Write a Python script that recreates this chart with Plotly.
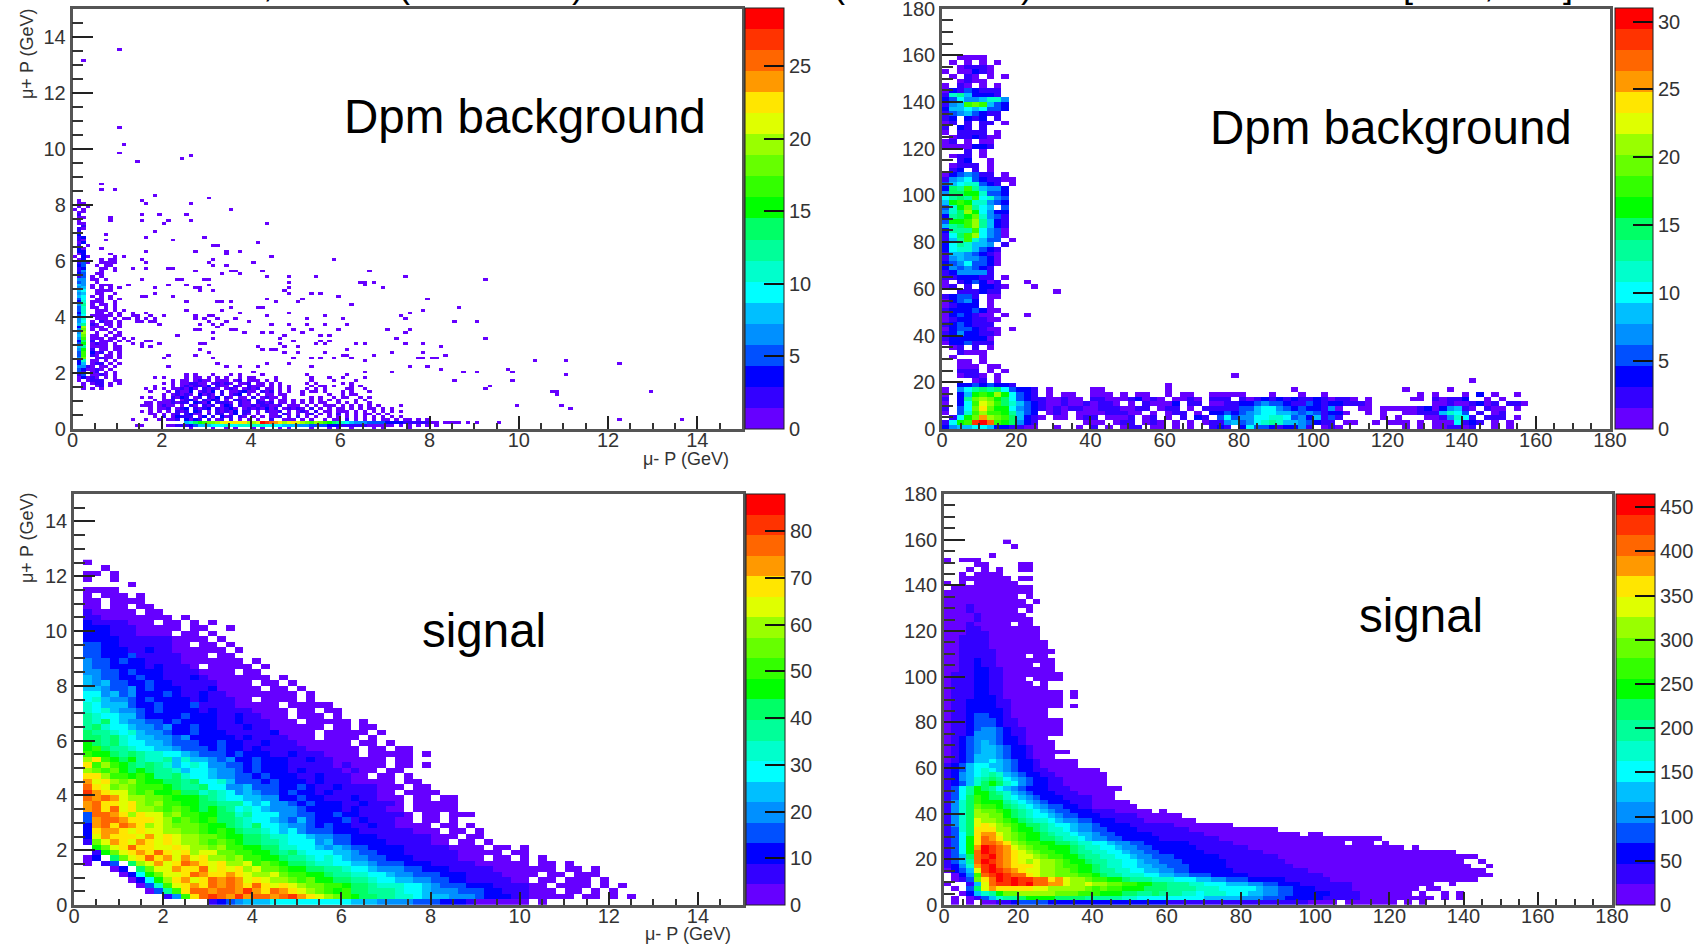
import plotly.graph_objects as go

W, H = 1704, 947
FONT = "Liberation Sans"

# ROOT-style 20-level palette, bottom to top
palette = ["#6600ff", "#3300ff", "#0000ff", "#0050ff", "#0090ff", "#00bfff", "#00ffff", "#00ffcc", "#00ff99", "#00ff66",
           "#00ff00", "#33ff00", "#66ff00", "#99ff00", "#dfff00", "#ffe600", "#ff9900", "#ff6600", "#ff3300", "#ff0000"]
CODES = "123456789abcdefghijk"

tl_zmax, tr_zmax, bl_zmax, br_zmax = 29, 31, 88, 465

# ---- Dpm background, muon momenta: left band, rows y=8.2 down to y=2.0, bins 0.1 GeV, start at x=0
tl_left_rows = [
 ".1", ".11", ".1.1", "1.1", ".11", ".2", ".11.....1", ".1......1", ".11", "..2", ".21", ".2", ".3.....1", ".23", ".21....1", ".13",
 ".2.1", ".31...1", ".33", ".13.....1", "1.31.....1.1", ".13...1.11", ".241..1111", ".34..1.11", ".23...11.1", ".25...1..1", ".34..11", ".24.1.1", ".55.11.1", ".45..1",
 ".65.1.111", ".56.1.1.1.1", ".67..1111", ".56..11..1", ".67.1.1.1", ".47..11.1.1", ".38.111..1", ".59.1.11.1", ".48.11.1.1", ".48..111.1.1", ".38..11.1.1", ".47.11111.1", ".58..111.1.1", ".57.1.211.1", ".69.21.11.1",
 ".3e.111.1.1", ".5d.1.11.1", ".5e..1..1.1", ".6d.11.1.11", ".5c.111.11.1", ".3a.2.111.1.1", ".4b.1211.1", ".69.1111.11", ".5b.2.11.11", ".4c.312.1.1", ".4c.21.11.1", ".5d..1211.1", ".38.11.1.1", ".36.122.1.1", ".5521.11.1", ".431121.1", ".42.12.1.1",
]
# Rows y=1.9 down to y=1.4, start at x=0
tl_mid_rows = [".24.1121.1", ".13121.1.1", ".1.1222..11", "..1.122.1.1", "..1..12.1", "..1.1.1"]
# Low-momentum region, rows y=1.9 down to y=0, bins 0.1 GeV, start at x=1.5
tl_low_rows = [
 "..........1.1...1...1.1....1.........1........1",
 "...1.1....1.11.1.1.1..1.11....1.......1...1..1....1",
 ".......1.11.1211.111.12.111.1.1.......1....1....1",
 ".....1.1.112211.12121.112.11.1.1.....1.1.....1.1",
 "...1...1.1212213.211.21.2111.1.1.1....1.11.1...1.1",
 ".1.1.1.112131.2121.121.1212.11.1.1...1.1.1....11..1",
 "..1...1.2113.1213.2.112311.212.1.1..1.11.1...1.1...1",
 ".....1.12121.3121.2.123.1.1.11.11...1.....1..1.11",
 "..1..1.2132.12.213.21.11.2.1211.1.....1.1..1.11..1.1",
 "...1.112.1231.2132.1.2212.21.1.11.1.1.1.1.1.1...1.1",
 ".11.1112122.3213.2221.211.2212.11.1.1.1.11..1.1.1..1",
 "111.1211.1.21.212.132.2112122112.111.1.1.111.1.1.1.1.1....1",
 "..1.112.123.2123.21231.12121312.12121.2.1.1.11.1.1.11.1.1",
 "1...1.1.212.32.1.21213.22.1.2112.1.121.2.11.111.1.1.1.1.1.1",
 "..11.1.12.2311.2.22.13.21.1..11.21.1.12.1.1.2.1.1.11.1.1",
 "...1.2.13222.13.2.312.21.1.1.112.1.2.1.1..1.1.1.1.1.1.1.1.1",
 "....1.112.3132.2.12.2.1.1.1..2..111.1.1..1.11.2.1.1.1.11.1.11.1.1",
 "..........68abcddefgfgfgeefkjihgefgfedcedcba98765554444333322222211.1111.1.1",
 "......112223466677787788888877776665554444333222222111111.1.1.1.1.1",
 "...........1....1..1.1...1.1...1.1....1...1.1..1....1.1.....1",
]
# Scattered single entries, momenta of mu- and mu+ (GeV)
tl_sparse_x = [1.0,0.2,1.0,1.15,1.0,1.45,2.45,2.65,0.65,0.65,0.95,1.85,1.55,1.65,2.65,3.0,3.55,1.55,1.55,1.95,2.5,2.6,2.1,2.05,4.35,1.85,1.65,2.25,2.95,3.1,3.2,4.1,1.6,2.75,3.4,3.4,3.7,3.1,3.0,4.45,5.85,1.55,1.6,3.15,3.4,4.05,1.65,1.3,2.15,2.25,2.75,3.35,3.55,3.65,3.75,4.2,4.3,4.8,5.4,6.65,7.45,2.95,3.05,2.3,2.4,1.5,1.25,2.15,2.55,2.75,2.85,3.0,4.8,6.4,6.5,6.55,6.75,6.9,9.25,1.85,1.85,2.85,3.1,4.7,4.8,4.85,5.3,5.5,5.15,5.9,7.95,1.55,1.6,2.25,2.55,3.25,3.35,3.55,4.1,4.2,4.3,4.5,5.05,6.25,8.65,3.35,1.3,1.4,1.7,1.85,2.0,2.55,2.75,3.5,3.7,4.2,4.35,4.85,5.2,5.65,6.0,7.5,7.8,7.35,1.5,1.6,1.7,1.8,1.95,2.7,2.8,2.9,3.0,3.1,3.2,3.3,3.05,3.15,3.25,3.45,3.6,3.9,4.4,4.85,5.2,5.65,6.15,8.5,9.0,7.4,2.35,2.7,2.85,3.1,3.5,3.65,3.8,4.25,4.45,4.6,4.75,4.95,5.15,5.3,5.55,5.75,5.9,7.0,7.55,7.4,1.3,1.6,1.75,1.95,2.85,2.95,3.1,4.65,4.55,4.7,4.9,5.0,5.4,5.55,5.7,6.3,6.5,7.2,7.4,7.8,9.2,8.25,1.5,1.75,2.85,2.75,3.0,4.1,4.2,4.45,4.75,5.0,5.6,5.65,6.0,6.1,7.85,8.35,8.15,2.0,2.15,3.15,4.9,5.3,5.5,5.85,6.1,6.2,6.5,6.7,7.1,7.75,7.85,8.0,10.35,11.05,12.2,2.1,3.2,3.45,3.75,4.0,4.1,4.35,4.8,5.3,6.55,7.95,8.7,9.05,7.1,7.55,9.7,9.8,8.25,8.55,9.85,10.85,11.05,9.2,9.3,10.7,10.8,12.2,13.6,12.9,11.1,10.9,9.9,9.5,1.3,1.4,1.5,1.6,1.7,1.5,1.6,1.7,1.3,1.4,1.25,1.45,1.55,1.35]
tl_sparse_y = [13.5,13.1,10.7,10.1,9.8,9.55,9.6,9.7,8.7,8.5,8.5,8.3,8.1,8.0,8.05,8.2,7.85,7.65,7.45,7.6,7.65,7.45,7.4,7.3,7.35,7.0,6.8,6.7,6.8,6.5,6.5,6.6,6.3,6.3,6.3,6.2,6.3,6.0,5.95,6.1,6.05,6.0,5.9,5.85,5.85,5.9,5.7,5.75,5.7,5.7,5.6,5.55,5.6,5.65,5.55,5.6,5.45,5.45,5.4,5.6,5.45,5.3,5.3,5.3,5.3,5.3,5.15,5.15,5.1,5.0,5.05,5.1,5.2,5.2,5.15,5.25,5.2,5.0,5.35,5.0,4.85,4.9,4.95,4.95,5.0,4.85,4.8,4.8,4.6,4.7,4.6,4.7,4.7,4.7,4.5,4.5,4.5,4.55,4.35,4.35,4.6,4.5,4.55,4.45,4.3,4.25,4.1,4.0,4.0,3.9,4.0,4.2,4.05,4.3,4.1,4.3,4.0,4.1,3.95,4.0,3.95,4.15,4.25,4.0,3.8,3.9,3.85,3.8,3.7,3.9,3.75,3.9,4.0,4.0,3.95,3.75,3.8,3.7,3.65,3.85,3.9,3.8,3.7,3.75,3.7,3.75,3.75,3.85,3.8,3.9,3.3,3.5,3.55,3.4,3.5,3.55,3.4,3.45,3.4,3.25,3.3,3.5,3.4,3.55,3.35,3.35,3.55,3.55,3.5,3.4,3.2,3.1,3.1,3.05,3.0,3.05,3.2,3.05,2.85,2.9,3.15,2.9,3.0,3.1,3.1,3.05,3.05,3.2,3.05,3.05,3.25,2.9,2.9,2.9,2.8,2.65,2.7,2.95,2.85,2.85,2.75,2.75,2.7,3.0,2.65,2.85,2.7,2.6,2.5,2.5,2.6,2.5,2.5,2.5,2.55,2.55,2.6,2.55,2.45,2.6,2.7,2.5,2.5,2.5,2.45,2.4,2.35,2.2,2.3,2.2,2.2,2.0,2.2,2.3,2.3,2.25,2.0,2.25,2.0,2.0,2.05,2.2,2.1,2.0,2.15,1.75,1.7,1.3,1.9,1.4,1.5,1.3,1.25,0.3,0.35,1.3,0.7,0.8,0.85,0.2,0.35,0.15,1.15,0.3,0.65,0.15,4.1,4.05,4.0,3.95,3.9,3.8,3.05,3.0,3.1,3.2,3.9,3.75,3.3,2.8]

# ---- Dpm background, theta angles: vertical band, rows y=158 down to y=20, bins 2 deg, start at x=0
tr_v_rows = [
 "..1111", ".1.1.1.1", "..12221", "1.11321", ".1.21.1.1", "..1211", "1.21.1.1", "13243222", "28963332", "347556885",
 "256cdc643", "366767443", "24564322", "23.323.2", "12.2.22.1", "2.32.2", "1.2222.1", ".1223211", "12.1.11", "1111332.",
 "...2.1.", ".122.1", "..23..1", ".1222.1", ".23.2.1.", "1345422.1", "2567432211", "46788432.1", "3a9c96553", "5aabb8443",
 "79a9c7854", "6bcb88543", "48bd976.4", "58aeb7533", "39abd8542", "4bbce9632", "69ace9632", "3999c7541", "27ace7541", "269c8644.1",
 "3798665.2", "37886432", "26654321", "25655431", "34574431", "3545432.", "2355552.", "2233322.1", "1.234312...1", "12.2.3321...1",
 "..222322.......1", "23442.11", "13453.1", "12333.1", "23334311", "1343211.1..1", "12332211", "2343222.", "13443211.1", "23533221",
 "2333331", "1334222", ".12.2.1", "..2111", ".1...1", "..11.1", "..111.11", "..222.1.1", "..1221.1", "....12.1",
]
# Bottom block of the same panel, rows y=18 down to y=0, start at x=0
tr_b_rows = [
 "..33434332", "1.579a9a74332.1", "1.36bcbeb7432.1.1", "2.39dedba7432211", "1.37cfeca8643211", "2.47dgdbb754321", "1.48ceccb9643", ".27bdhedca6321", "27bcjkicba532", "3566776332211",
]
# Horizontal band, rows y=24 down to y=0, start at x=24
tr_h_rows = [
 "...........................1",
 "...........................................................1",
 "..................1......................................",
 "........11........1................1..............1.....1",
 "..1..1..111.1.11..1.11..11111...1...1..1............1.1...1.3.1..1",
 ".1.1211.2211123121.1121.222.2123232322321221.1.....11.21223..1.1",
 "...121121221.1.21113.22.1122334544322432332221........112112312.221.",
 "1112122112221122.122.1.2222244677543433251..11.1111123135621.211.1",
 "..121.111122211.1.122.1.3343456776654542331..1.1..112226874.2.12.",
 "...11.122.1112.12.1.2.32.47455778874536242.....1.1...1125872.222.1",
 ".......111.122.121.1.1.122564578986654322.11..1.111.1.1117232.1.1",
 "...1..1.2.1.122.11.1.1..232.3744323352.121........1.1.112212..1.1",
]

# ---- Signal, muon momenta: rows y=12.4 down to y=0, bins 0.2 GeV, start at x=0
bl_rows = [
 ".1", "...1", ".11.1", ".1..1", "......1", ".1111", ".1.111.1", ".11.1111", ".11.11.11", ".211111.11", ".2211111111.1",
 ".32222111.11.1.1", ".33322211111.11..1", ".3332221111.11.1", ".33332222221111.1", ".443322222211.11.1", ".4433322322111111.1", ".44333422222111.11",
 ".544343322221111111.1", ".5443333232221.11111.1", ".55443433322221111.11", ".654433433222321111111.1", ".6564433433222221111.11.1", ".66544534333222311111.11.1",
 ".775645333432232211111111.1", ".7865543433332322211.1111.1", ".8766643343334222211111.11111", ".87865543433332322221111.11.11", ".98776643333433322322111.111.1",
 ".98a765544343333223222111.11111.1", ".9a8776554533433222322111111.11.11", ".a9987865543343332222231111.11111.1", ".aa9a8766554533333232222111.1111.1",
 ".ba9a87766544433433223222111111.11.1", ".bca9987766544434332322222111111.11.11", ".cbba9a9887765444343332232221111.11111.1",
 ".egcbab9889686654533433322322111111.11", ".gcecba9a98678755443433322222121111.11.1", ".edcdbaba9986776554343332322221211.11", ".ggeccbcb99a877655443433322322211.11.1",
 ".hfgedecbbaa9a7786444343332322211111.11", ".igfdedcccba99a7755644433432232222111.11", ".jhgffdcdbbcaa8987565443433232222211.1111", ".ihihfeeddcbbba9877665533433222322111.11.11",
 ".higgfgedeccbbaa999767554343332232221.11111", ".higifgeedcdcbaba97876555433332322211.11111", ".4iihgegffdeccbbaa89777554433433222221.11.111", ".4hiihgggfecdcbcaa98776546433342322211.11.1",
 ".3higihgefedddcbba98a7765543433223221111.11.1", ".3ghhgfgffeeddcbcba9987675444333222222111.11.1", ".3fhgggfhfgfeeddcbbaa9887765544333222222111.11", ".2dfhgfhgfgfeedcdcbaa998777564433332222211.11.1",
 "..bdfgiggffgfeedeccbbaa88776565443333222221111.11.1", "..2bdfghgigfgeffddccbba9a87776654433322222211111.11", ".13.adfgighfhfgeedeccbba9987876554433322222111.11.1.1", ".1.24.aefhfgihgfgeefcdcbaa9887766544433322222111111.11.1",
 "....13.adffhggifgfgefddcbbaa99877655544333222221111111.11.1", ".....137bdffgihgghgfeefdccbba99887765544433322221111.11.111", "......137beghfgihihfgfeedcdbbaa99877665544332222211.11.111.1", ".......148cfghgihihgigfgfeddccbaa98887765444333222211.1111.1.1",
 "........149cgiihiihjhgihgfedcbcaa999877655544433222111.11.1.1", "..........25cgijihjhiihijhgfedcbaa9988766655543332211111.11.1.1", "...............234566677777777766655554443332111111.1",
]

# ---- Signal, theta angles: rows y=158 down to y=0, bins 2 deg, start at x=0
br_rows = [
 "........1", ".........1", "", "......1", "1.111", "....11....11", "...1.1.1..11", "..1.1111", "..1111111.11", "1.1.111111",
 ".11111111111", "111111111111", "1111111111.1", "11111111111.1", "111211111111", "1112111111.1", "11112111111", "111121111111", "111211111.11", "1112211111111",
 "1112221111111", "1122221111111.", "11222211111111", "11222211111111", "112222211111111", "11222221111.11", "112232211111111", "112232211111.11", "112233221111111", "1222332211111111",
 "12223322111.1111", "122233221111.1", "12223322111111", "1222332211111111.1", "1222333211111111.1", "1223333221111111", "1223333221111111.1", "12233333211111", "12234433211111", "1223444322111111",
 "1223444322111111", "1223455432211111", "1223555432211111", "12345554332111", "123456543321111", "123456654332111", "12345665433211111", "123466654332111", "123466765433211111",
 "234677665433211111", "234678765433221111111", "2356789865433221111111", "235689a976543322111111", "23468aba87543322111111", "2479ba976543332221111111", "2479bba9865433322211111", "247acbaa876543332222111", "258acbbb98765433322211111", "258adccba98765443322111111",
 "258aeddcba987654433322211111.1", "258aeeddba9877654433322222111111", "258afeedcba98876554433322221111111", "258afgfedcbaa98776554333322222211111111", "248agggeecbba98876554433332222222111111111111", "247aghhfedcbba9887665443333322222221111111111111.11", "247bgihgedcbbaa98876554433333222222221111111111111111111111", "247bgiihgedccbbaa9887765544333333222222111111111111111.111.1", "247bhkjihfedccbbba98877655443333332222222111111111111111111111.1", "247bikjihgfedccbba998877655443333332222222211111111111111111111111111",
 "246aijkihgffedccbba99887765544433333322222222111111111111111111111111111", "2469ikjihgfefeedcbba99887765544433333322222222111111111111111111111111..1", "2358hjkihgggfeedccbba98877665544433333222222222111111111111111111111111..1", "1346fjkjihgffeeddcbba9988776655443333332222222222111111111111111111111111", ".135cijkjiigfeedddccba9988877665544433333222222222211111111111111111111111", ".124dgikjkjjiighfeedccbba99988877766554443333322222211111111111111111111", "1..26fijjkjkiihhfeefeeddccbbaa999887776665544333222222211111111111..1", ".1.4afhgggggffeeeeedcdccbbbaaa9999888777776554433322222111111111.11", "..13689bddeeeeedddcccbbbaa99a9998878887776655443333322221111111.1..1.1", ".1.1246899abbbbaaaa99999887777777776666655544433333222221111111111.1.1", ".1.1.112234444333333333333333322222222222222222221111.1111111.1.1",
]

x_ticks_m = [0, 2, 4, 6, 8, 10, 12, 14]
x_ticks_t = [0, 20, 40, 60, 80, 100, 120, 140, 160, 180]
xlabel = "\u03bc- P (GeV)"
ylabel = "\u03bc+ P (GeV)"
texts = ["Dpm background", "Dpm background", "signal", "signal"]
top_glyphs = [(",", 268), ("(", 404), (")", 578), ("(", 839), (")", 1027), ("[", 1408), (",", 1489), ("]", 1568)]


def levels(rows, ncols, width_value):
    """Turn rows of level codes (top row first) into bottom-up z values."""
    z = []
    for row in reversed(rows):
        line = [None] * ncols
        for i, ch in enumerate(row[:ncols]):
            if ch in CODES:
                line[i] = (CODES.index(ch) + 0.5) * width_value
        z.append(line)
    return z


def stamp(z, rows, start_col, start_row, width_value):
    """Write rows (top first) into z so that the last row lands on start_row."""
    for k, row in enumerate(reversed(rows)):
        for i, ch in enumerate(row):
            c = start_col + i
            if ch in CODES and c < len(z[0]) and start_row + k < len(z):
                z[start_row + k][c] = (CODES.index(ch) + 0.5) * width_value


scale = []
for i, c in enumerate(palette):
    scale += [[i / 20, c], [(i + 1) / 20, c]]

# Build panel grids
w = tl_zmax / 20
z_tl = [[None] * 150 for _ in range(150)]
for px, py in zip(tl_sparse_x, tl_sparse_y):
    z_tl[int(py * 10)][int(px * 10)] = 0.5 * w
stamp(z_tl, tl_left_rows, 0, 20, w)
stamp(z_tl, tl_mid_rows, 0, 14, w)
stamp(z_tl, tl_low_rows, 15, 0, w)

w = tr_zmax / 20
z_tr = [[None] * 90 for _ in range(90)]
stamp(z_tr, tr_h_rows, 12, 0, w)
stamp(z_tr, tr_v_rows, 0, 10, w)
stamp(z_tr, tr_b_rows, 0, 0, w)

z_bl = levels(bl_rows, 75, bl_zmax / 20)
z_br = levels(br_rows, 90, br_zmax / 20)

panels = [
    dict(z=z_tl, d=0.1, zmax=tl_zmax, rng=15, xt=x_ticks_m, yt=x_ticks_m, xm=0.5, ym=0.5, box=(72.5, 742, 8.5, 429), cb=(745, 39), cbd=5),
    dict(z=z_tr, d=2, zmax=tr_zmax, rng=180, xt=x_ticks_t, yt=x_ticks_t, xm=5, ym=5, box=(942, 1610, 8.5, 429), cb=(1614.5, 38), cbd=5),
    dict(z=z_bl, d=0.2, zmax=bl_zmax, rng=15, xt=x_ticks_m, yt=x_ticks_m, xm=0.5, ym=0.5, box=(74, 742.5, 494, 905), cb=(746, 39), cbd=10),
    dict(z=z_br, d=2, zmax=br_zmax, rng=180, xt=x_ticks_t, yt=x_ticks_t, xm=5, ym=5, box=(944, 1612, 494, 905), cb=(1615.5, 38.5), cbd=50),
]

fig = go.Figure()
layout = dict(width=W, height=H, margin=dict(l=0, r=0, t=0, b=0, autoexpand=False), paper_bgcolor="white", plot_bgcolor="white",
              font=dict(family=FONT, size=20, color="#333333"), showlegend=False, annotations=[])

for n, p in enumerate(panels, start=1):
    x0, x1, y0, y1 = p["box"]
    xa, ya = f"xaxis{n}", f"yaxis{n}"
    fig.add_trace(go.Heatmap(
        z=p["z"], x0=p["d"] / 2, dx=p["d"], y0=p["d"] / 2, dy=p["d"], xaxis=f"x{n}", yaxis=f"y{n}",
        colorscale=scale, zmin=0, zmax=p["zmax"], hoverongaps=False,
        colorbar=dict(x=p["cb"][0] / W, xanchor="left", thickness=p["cb"][1], thicknessmode="pixels",
                      y=1 - y1 / H, yanchor="bottom", len=(y1 - y0) / H, lenmode="fraction", xpad=0, ypad=0,
                      outlinewidth=1, outlinecolor="#222222", borderwidth=0, tick0=0, dtick=p["cbd"],
                      ticks="inside", ticklen=20, tickwidth=1.5, tickcolor="#111111",
                      tickfont=dict(family=FONT, size=20, color="#333333")),
    ))
    layout[xa] = dict(domain=[x0 / W, x1 / W], range=[0, p["rng"]], anchor=f"y{n}", tickvals=p["xt"], ticks="inside", ticklen=13,
                      tickwidth=2, tickcolor="#222222", showline=True, linewidth=2.5, linecolor="#555555", mirror=True, showgrid=False,
                      zeroline=False, ticklabelstandoff=-9, ticklabeloverflow="allow",
                      minor=dict(dtick=p["xm"], ticks="inside", ticklen=6, tickwidth=1.5, tickcolor="#333333", showgrid=False))
    layout[ya] = dict(domain=[1 - y1 / H, 1 - y0 / H], range=[0, p["rng"]], anchor=f"x{n}", tickvals=p["yt"], ticks="inside", ticklen=21,
                      tickwidth=2, tickcolor="#222222", showline=True, linewidth=2.5, linecolor="#555555", mirror=True, showgrid=False,
                      zeroline=False, ticklabeloverflow="allow",
                      minor=dict(dtick=p["ym"], ticks="inside", ticklen=11, tickwidth=1.5, tickcolor="#333333", showgrid=False))


def note(text, x, y, size, color="#000000", xanchor="center", yanchor="middle", **kw):
    return dict(text=text, x=x / W, y=1 - y / H, xref="paper", yref="paper", showarrow=False, xanchor=xanchor, yanchor=yanchor,
                font=dict(family=FONT, size=size, color=color), **kw)


for t, (cx, cy) in zip(texts, [(525, 116), (1391, 127), (484, 630), (1421, 615)]):
    layout["annotations"].append(note(t, cx, cy, 47.5))
for rx, ry in [(731, 459), (733, 934)]:
    layout["annotations"].append(note(xlabel, rx, ry, 18, color="#333333", xanchor="right"))
for cy in [54, 538]:
    layout["annotations"].append(note(ylabel, 27, cy, 18, color="#333333", textangle=-90))
for g, gx in top_glyphs:
    layout["annotations"].append(note(g, gx, 6, 36, yanchor="bottom", borderpad=0))

fig.update_layout(**layout)
fig.write_html("out.html", post_script="document.body.style.margin='0';", config={"displayModeBar": False})
